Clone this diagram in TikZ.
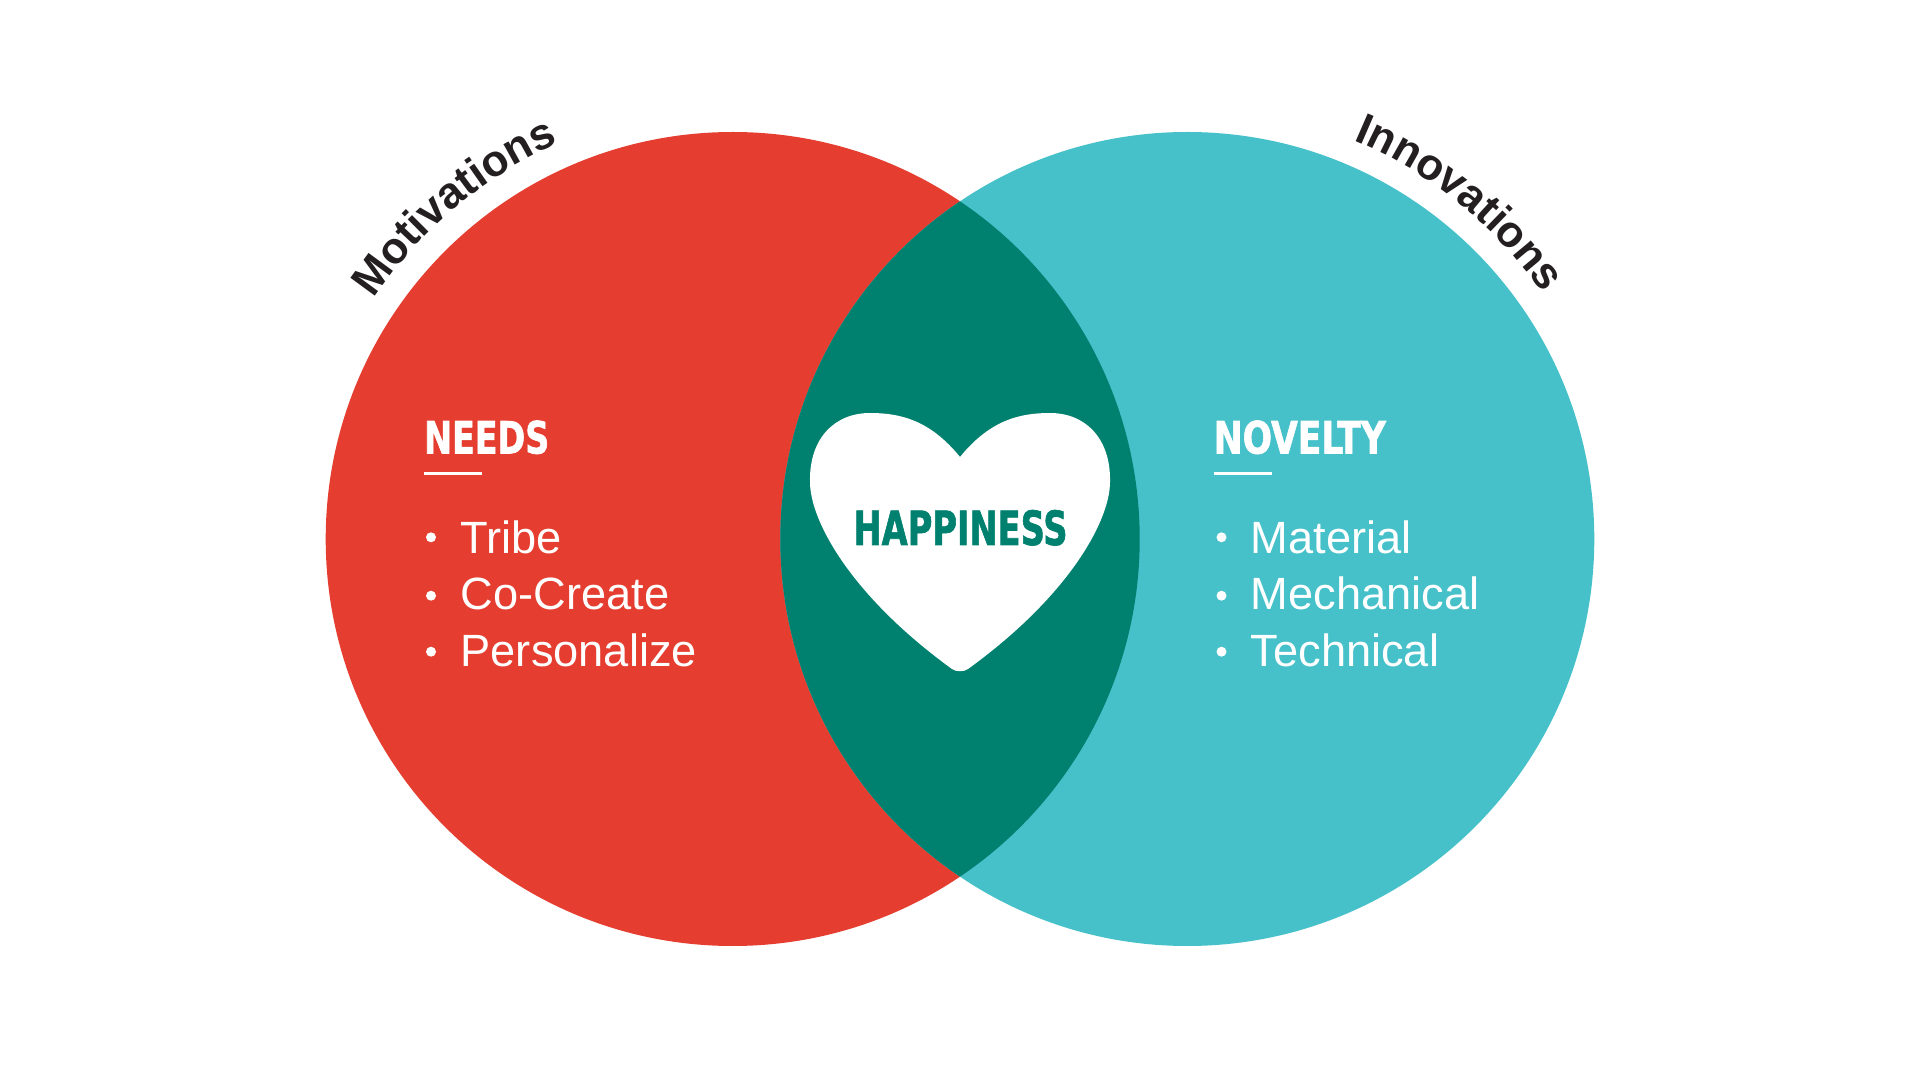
\documentclass[tikz,border=0pt]{standalone}
\usepackage{fontspec}
\setmainfont{Liberation Sans}
\newfontfamily\headfont{DejaVu Sans Condensed}[BoldFeatures={FakeBold=1.5}]
\usetikzlibrary{decorations.text,calc}
\definecolor{vred}{HTML}{E53E30}
\definecolor{vteal}{HTML}{46C1CA}
\definecolor{vdark}{HTML}{00806E}
\definecolor{vink}{HTML}{231F20}
\begin{document}
\begin{tikzpicture}[x=1pt,y=1pt,
  head/.style={anchor=base west, inner sep=0pt, text=white},
  item/.style={anchor=base west, inner sep=0pt, text=white, font=\fontsize{45.2}{50}\selectfont},
  dot/.style={circle, fill=white, draw=none, inner sep=0pt, minimum size=10pt},
  rulebar/.style={white, line width=3pt},
  arctext/.style={decorate, decoration={text along path, text align=center,
     text color=vink, text={|\fontsize{44}{44}\selectfont\bfseries|#1}}}]
\useasboundingbox[fill=white] (0,0) rectangle (1920,1080);
\coordinate (L) at (732.7,541);
\coordinate (R) at (1187.3,541);
% circles
\fill[vred] (L) circle[radius=407];
\fill[vteal] (R) circle[radius=407];
\begin{scope}
  \clip (L) circle[radius=407];
  \fill[vdark] (R) circle[radius=407];
\end{scope}
% heart
\fill[white] (960,623) .. controls (990,660) and (1020,667) .. (1050,667)
  .. controls (1085,667) and (1111,642) .. (1110,598)
  .. controls (1110,560) and (1070,485) .. (968,411)
  .. controls (964,408) and (956,408) .. (952,411)
  .. controls (850,485) and (810,560) .. (810,598)
  .. controls (809,642) and (835,667) .. (870,667)
  .. controls (900,667) and (930,660) .. (960,623) -- cycle;
\node[anchor=base, inner sep=0pt, text=vdark] (happy) at (960.5,535)
  {\resizebox{214pt}{35pt}{\headfont\bfseries HAPPINESS}};
% curved labels
\path[arctext=Motivations] ($(L)+(165:432)$) arc[start angle=165, end angle=95, radius=432];
\path[arctext=Innovations] ($(R)+(86:432)$) arc[start angle=86, end angle=16, radius=432];
% left list
\node[head] (needs) at (424,626.5) {\resizebox{125pt}{33pt}{\headfont\bfseries NEEDS}};
\draw[rulebar] (424,606) -- (482,606);
\node[dot] (lb1) at (431,542.7) {};
\node[dot] (lb2) at (431,484.3) {};
\node[dot] (lb3) at (431,428.3) {};
\node[item] (l1) at (460.5,526.7) {Tribe};
\node[item] (l2) at (460.5,470) {Co-Create};
\node[item] (l3) at (460.5,413.3) {Personalize};
% right list
\node[head] (novelty) at (1213.5,626.5) {\resizebox{172pt}{33pt}{\headfont\bfseries NOVELTY}};
\draw[rulebar] (1214,606) -- (1272,606);
\node[dot] (rb1) at (1221.5,542.7) {};
\node[dot] (rb2) at (1221.5,484.3) {};
\node[dot] (rb3) at (1221.5,428.3) {};
\node[item] (r1) at (1250.5,526.7) {Material};
\node[item] (r2) at (1250.5,470) {Mechanical};
\node[item] (r3) at (1250.5,413.3) {Technical};
\end{tikzpicture}
\end{document}
